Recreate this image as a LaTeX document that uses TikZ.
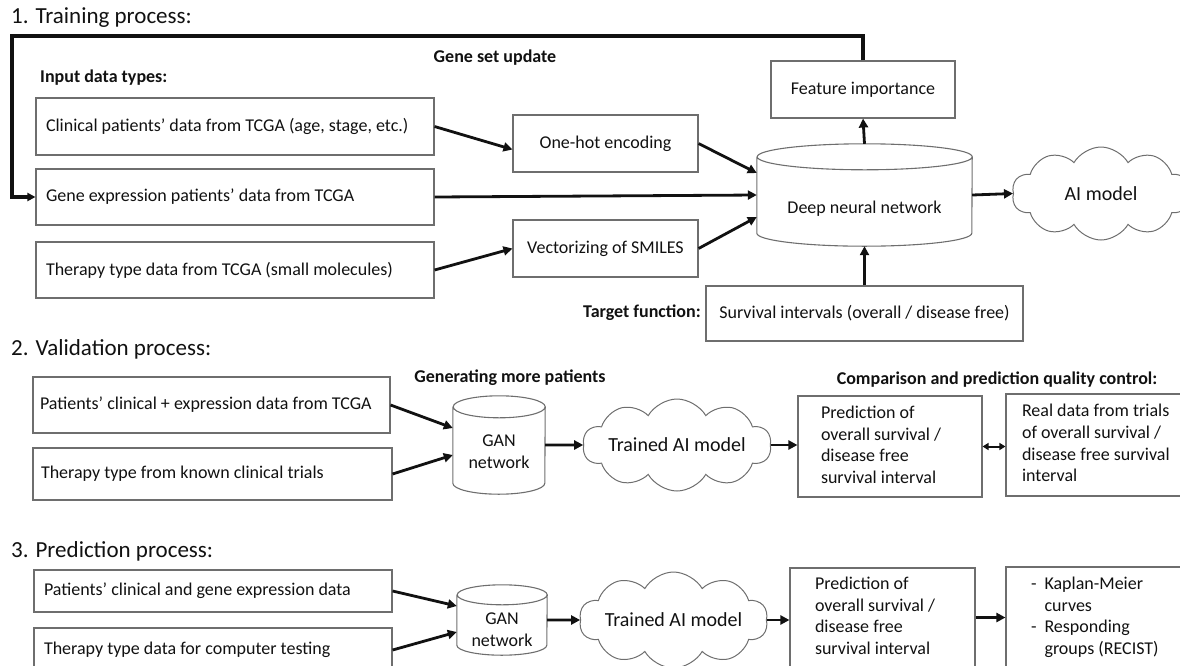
\documentclass[tikz,border=0pt]{standalone}
\usepackage{fontspec}
\setmainfont{Carlito}
\usetikzlibrary{arrows.meta,shapes.symbols,calc}
\definecolor{edge}{HTML}{6E6E6E}
\definecolor{ink}{HTML}{111111}
\newcommand{\drumline}[3]{%
  \draw[draw=edge,line width=1.1pt]
    ($(#1.north west)+(0,#3)$) -- ($(#1.south west)+(0,-#3)$)
    arc[start angle=180,end angle=360,x radius=#2pt,y radius=#3pt]
    -- ($(#1.north east)+(0,#3)$)
    arc[start angle=0,end angle=180,x radius=#2pt,y radius=#3pt]
    arc[start angle=180,end angle=360,x radius=#2pt,y radius=#3pt];}
\newcommand{\lefttxt}[2]{\makebox[#1][l]{#2}}
\newcommand{\lines}[1]{\begin{tabular}{@{}l@{}}#1\end{tabular}}
\begin{document}
\begin{tikzpicture}[x=1pt,y=-1pt,
  txt/.style={font=\fontsize{18}{21.7}\selectfont, text=ink},
  ttl/.style={font=\fontsize{23}{28}\selectfont, text=ink, anchor=west, inner sep=0pt},
  lbl/.style={font=\fontsize{18}{21.7}\selectfont\bfseries, text=ink, inner sep=0pt},
  box/.style={txt, draw=edge, line width=1.1pt, rectangle, inner ysep=0pt},
  inbox/.style={box, inner xsep=#1},
  cbox/.style={box, align=center, inner xsep=0pt},
  hold/.style={rectangle, draw=none, inner sep=0pt},
  puff/.style={cloud, cloud puffs=10, cloud puff arc=120, cloud ignores aspect,
    draw=edge, line width=1pt, font=\fontsize{20}{24}\selectfont, text=ink, inner sep=0pt},
  arr/.style={draw=ink, line width=2.8pt, -{Triangle[length=9pt,width=9pt]}},
  dbl/.style={draw=ink, line width=2pt, {Triangle[length=6pt,width=7pt]}-{Triangle[length=6pt,width=7pt]}},
]
\path[use as bounding box] (0,0) rectangle (1180,665);
\clip (0,0) rectangle (1180,665);

% ---------- 1. Training ----------
\node[ttl] (t1) at (11,18) {1. Training process:};
\node[lbl] (gsu) at (495,58) {Gene set update};
\node[lbl, anchor=west] (idt) at (40,78) {Input data types:};

\node[inbox=10pt, minimum width=398pt, minimum height=57pt] (b1) at (235,126.5) {\lefttxt{378pt}{Clinical patients’ data from TCGA (age, stage, etc.)}};
\node[inbox=10pt, minimum width=398pt, minimum height=56pt] (b2) at (235,197) {\lefttxt{378pt}{Gene expression patients’ data from TCGA}};
\node[inbox=10pt, minimum width=398pt, minimum height=56pt] (b3) at (235,270) {\lefttxt{378pt}{Therapy type data from TCGA (small molecules)}};

\node[cbox, minimum width=185pt, minimum height=57pt] (oh) at (605.5,143.5) {One-hot encoding};
\node[cbox, minimum width=185pt, minimum height=57pt] (vec) at (605.5,248.5) {Vectorizing of SMILES};
\node[cbox, minimum width=184pt, minimum height=57pt] (fi) at (863,89.5) {Feature importance};

\node[hold, minimum width=215pt, minimum height=102pt] (dnn) at (864.5,195) {};
\drumline{dnn}{107.5}{13}
\node[txt, inner sep=0pt] (dnnt) at (864.5,209) {Deep neural network};

\node[puff, minimum width=178pt, minimum height=93pt] (ai) at (1101,193.5) {AI model};

\node[cbox, minimum width=317pt, minimum height=55pt] (surv) at (864.5,313.5) {Survival intervals (overall / disease free)};
\node[lbl, anchor=east] (tf) at (701,313) {Target function:};

\coordinate (fb) at (12,36);
\draw[draw=ink, line width=3.5pt, -{Triangle[length=8pt,width=8pt]}] (fi.north) |- (fb) |- (b2.west);

\draw[arr] (b1.east) -- ($(oh.west)+(0,6)$);
\draw[arr] (b2.east) -- (dnn.west);
\draw[arr] (b3.east) -- (vec.west);
\draw[arr] (oh.east) -- ($(dnn.west)+(0,-22)$);
\draw[arr] (vec.east) -- ($(dnn.west)+(0,22)$);
\draw[arr] (dnn.north) -- (fi.south);
\draw[arr] (surv.north) -- (dnn.south);
\draw[arr] (dnn.east) -- (ai.west);

% ---------- 2. Validation ----------
\node[ttl] (t2) at (11,349) {2. Validation process:};
\node[lbl] (gmp) at (510,378) {Generating more patients};
\node[lbl] (cmp) at (997,380) {Comparison and prediction quality control:};

\node[inbox=7pt, minimum width=357pt, minimum height=56pt] (a2) at (211.5,405) {\lefttxt{343pt}{Patients’ clinical + expression data from TCGA}};
\node[inbox=8pt, minimum width=359pt, minimum height=52pt] (c2) at (212.5,474) {\lefttxt{343pt}{Therapy type from known clinical trials}};

\node[hold, minimum width=92pt, minimum height=98pt] (gan2) at (499,445) {};
\drumline{gan2}{46}{11}
\node[txt, inner sep=0pt, align=center] (gan2t) at (499,452) {GAN\\network};

\node[puff, minimum width=178pt, minimum height=92pt] (cl2) at (677,445) {Trained AI model};

\node[inbox=23pt, minimum width=184pt, minimum height=101pt] (pred2) at (890,446.5)
  {\lefttxt{138pt}{\lines{Prediction of\\overall survival /\\disease free\\survival interval}}};
\node[inbox=16pt, minimum width=194pt, minimum height=102pt] (real2) at (1103,445)
  {\lefttxt{162pt}{\lines{Real data from trials\\of overall survival /\\disease free survival\\interval}}};

\draw[arr] (a2.east) -- ($(gan2.west)+(0,-17)$);
\draw[arr] (c2.east) -- ($(gan2.west)+(0,10)$);
\draw[arr] (gan2.east) -- (cl2.west);
\draw[arr] (cl2.east) -- (cl2.east -| pred2.west);
\draw[dbl] (pred2.east) -- (pred2.east -| real2.west);

% ---------- 3. Prediction ----------
\node[ttl] (t3) at (11,551) {3. Prediction process:};

\node[inbox=10pt, minimum width=358pt, minimum height=42pt] (a3) at (213,591) {\lefttxt{338pt}{Patients’ clinical and gene expression data}};
\node[inbox=10pt, minimum width=358pt, minimum height=44pt] (c3) at (213,650) {\lefttxt{338pt}{Therapy type data for computer testing}};

\node[hold, minimum width=90pt, minimum height=70pt] (gan3) at (502,620) {};
\drumline{gan3}{45}{10}
\node[txt, inner sep=0pt, align=center] (gan3t) at (502,630) {GAN\\network};

\node[puff, minimum width=183pt, minimum height=96pt] (cl3) at (673.5,620) {Trained AI model};

\node[inbox=25pt, minimum width=185pt, minimum height=99pt] (pred3) at (882.5,617.5)
  {\lefttxt{135pt}{\lines{Prediction of\\overall survival /\\disease free\\survival interval}}};
\node[inbox=25pt, minimum width=194pt, minimum height=101pt] (kap) at (1103,617.5)
  {\lefttxt{144pt}{\begin{tabular}{@{}l@{\hspace{8pt}}l@{}}-&Kaplan-Meier\\&curves\\-&Responding\\&groups (RECIST)\end{tabular}}};

\draw[arr] (a3.east) -- ($(gan3.west)+(0,-14)$);
\draw[arr] (c3.east) -- ($(gan3.west)+(0,12)$);
\draw[arr] (gan3.east) -- (cl3.west);
\draw[arr] (cl3.east) -- (cl3.east -| pred3.west);
\draw[arr] (pred3.east) -- (kap.west);
\end{tikzpicture}
\end{document}
